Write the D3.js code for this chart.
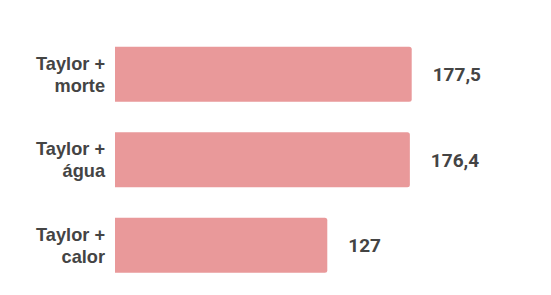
<!DOCTYPE html>
<html>
<head>
<meta charset="utf-8">
<script src="https://cdn.jsdelivr.net/npm/d3@7"></script>
<style>
  body { margin: 0; background: #fff; }
</style>
</head>
<body>
<script>
var w = 551;
var h = 295;

var categories = ["Taylor + morte", "Taylor + água", "Taylor + calor"];
var labelLines = [["Taylor +", "morte"], ["Taylor +", "água"], ["Taylor +", "calor"]];
var values = [177.5, 176.4, 127];

var data = categories.map(function(c, i){
    return { name: c, lines: labelLines[i], value: values[i] };
});

var ptBR = d3.formatLocale({ decimal: ",", thousands: ".", grouping: [3], currency: ["R$", ""] });
var fmt = ptBR.format("~");

var x = d3.scaleLinear()
            .domain([0, 177.5])
            .range([115, 411.7]);

var y = d3.scaleBand()
            .domain(categories)
            .range([31.45, 287.95])
            .paddingInner(0.357)
            .paddingOuter(0.1785);

var svg = d3.select("body").append("svg")
                .attr("width", w)
                .attr("height", h);

// bars with rounded right end
function barPath(d){
    var x0 = x(0), x1 = x(d.value), y0 = y(d.name), y1 = y0 + y.bandwidth(), r = 2.5;
    return "M" + x0 + "," + y0 +
           "H" + (x1 - r) +
           "Q" + x1 + "," + y0 + " " + x1 + "," + (y0 + r) +
           "V" + (y1 - r) +
           "Q" + x1 + "," + y1 + " " + (x1 - r) + "," + y1 +
           "H" + x0 + "Z";
}

svg.selectAll(".bar")
    .data(data)
    .enter()
    .append("path")
    .attr("class", "bar")
    .attr("d", barPath)
    .attr("fill", "#e9999a");

// value labels
svg.selectAll(".val")
    .data(data)
    .enter()
    .append("text")
    .attr("class", "val")
    .attr("x", function(d){ return x(d.value) + 21; })
    .attr("y", function(d){ return y(d.name) + y.bandwidth() / 2; })
    .attr("dy", "0.36em")
    .attr("font-family", "Roboto, sans-serif")
    .attr("font-weight", "bold")
    .attr("font-size", "19px")
    .attr("fill", "#444")
    .text(function(d){ return fmt(d.value); });

// category labels
var cat = svg.selectAll(".cat")
    .data(data)
    .enter()
    .append("text")
    .attr("class", "cat")
    .attr("text-anchor", "end")
    .attr("font-family", "'Liberation Sans', Arial, sans-serif")
    .attr("font-weight", "bold")
    .attr("font-size", "18.2px")
    .attr("fill", "#444")
    .attr("transform", function(d){ return "translate(105," + (y(d.name) + y.bandwidth() / 2) + ")"; });

cat.selectAll("tspan")
    .data(function(d){ return d.lines; })
    .enter()
    .append("tspan")
    .attr("x", 0)
    .attr("y", function(d, i){ return -4.5 + i * 22; })
    .text(function(d){ return d; });
</script>
</body>
</html>
